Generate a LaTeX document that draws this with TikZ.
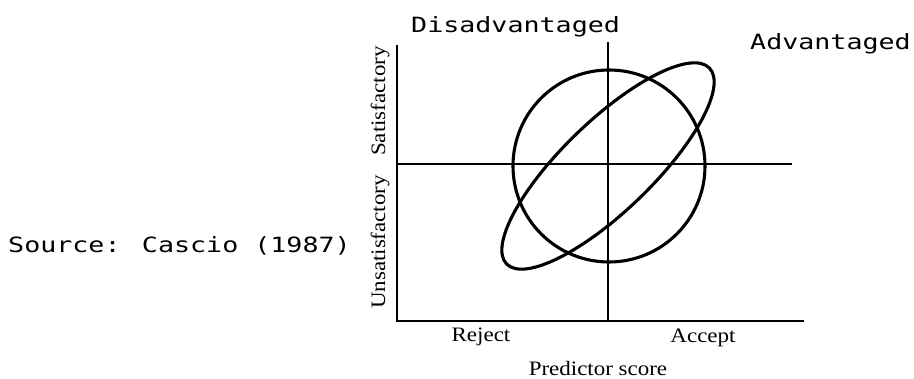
\documentclass[tikz,border=0pt]{standalone}
\usepackage{fontspec}
\setmainfont{Liberation Serif}[FakeStretch=1.12]
\newfontfamily\typefont{DejaVu Sans Mono}[FakeStretch=1.27]
\tikzset{
  axis-line/.style={line width=2.6pt,line join=miter},
  split-line/.style={line width=1.8pt},
  curve-line/.style={line width=3.1pt},
  typed/.style={font=\typefont\fontsize{21}{24}\selectfont,inner sep=0pt},
  axlab/.style={font=\fontsize{20.5}{24}\selectfont,inner sep=0pt},
}

\begin{document}
\begin{tikzpicture}[x=1pt,y=1pt]
  \useasboundingbox (0,0) rectangle (914,379);

  % axes
  \coordinate (orig)   at (397, 58);
  \coordinate (ytop)   at (397, 334);
  \coordinate (xend)   at (804, 58);
  \draw[axis-line] (ytop) -- (orig) -- (xend);

  % cut-off lines
  \coordinate (mleft)  at (397, 215);
  \coordinate (mright) at (792, 215);
  \coordinate (vtop)   at (608, 337);
  \coordinate (vbot)   at (608, 58);
  \draw[split-line] (mleft) -- (mright);
  \draw[split-line] (vtop) -- (vbot);

  % the two groups
  \coordinate (dis) at (609, 213);
  \coordinate (adv) at (608, 213);
  \draw[curve-line] (dis) circle[radius=96];
  \draw[curve-line,rotate around={44:(adv)}] (adv) ellipse[x radius=141,y radius=45];

  % labels
  \node[typed,anchor=base west] (l-dis) at (411, 346) {Disadvantaged};
  \node[typed,anchor=base west] (l-adv) at (750, 329) {Advantaged};
  \node[typed,anchor=base west] (l-src) at (8, 126)   {Source: Cascio (1987)};

  \node[axlab,anchor=base,rotate=90] (l-sat) at (385, 278) {Satisfactory};
  \node[axlab,anchor=base,rotate=90] (l-uns) at (385, 137) {Unsatisfactory};
  \node[axlab,anchor=base] (l-rej) at (481, 37) {Reject};
  \node[axlab,anchor=base] (l-acc) at (703, 36) {Accept};
  \node[axlab,anchor=base] (l-pre) at (598, 3)  {Predictor score};
\end{tikzpicture}
\end{document}
